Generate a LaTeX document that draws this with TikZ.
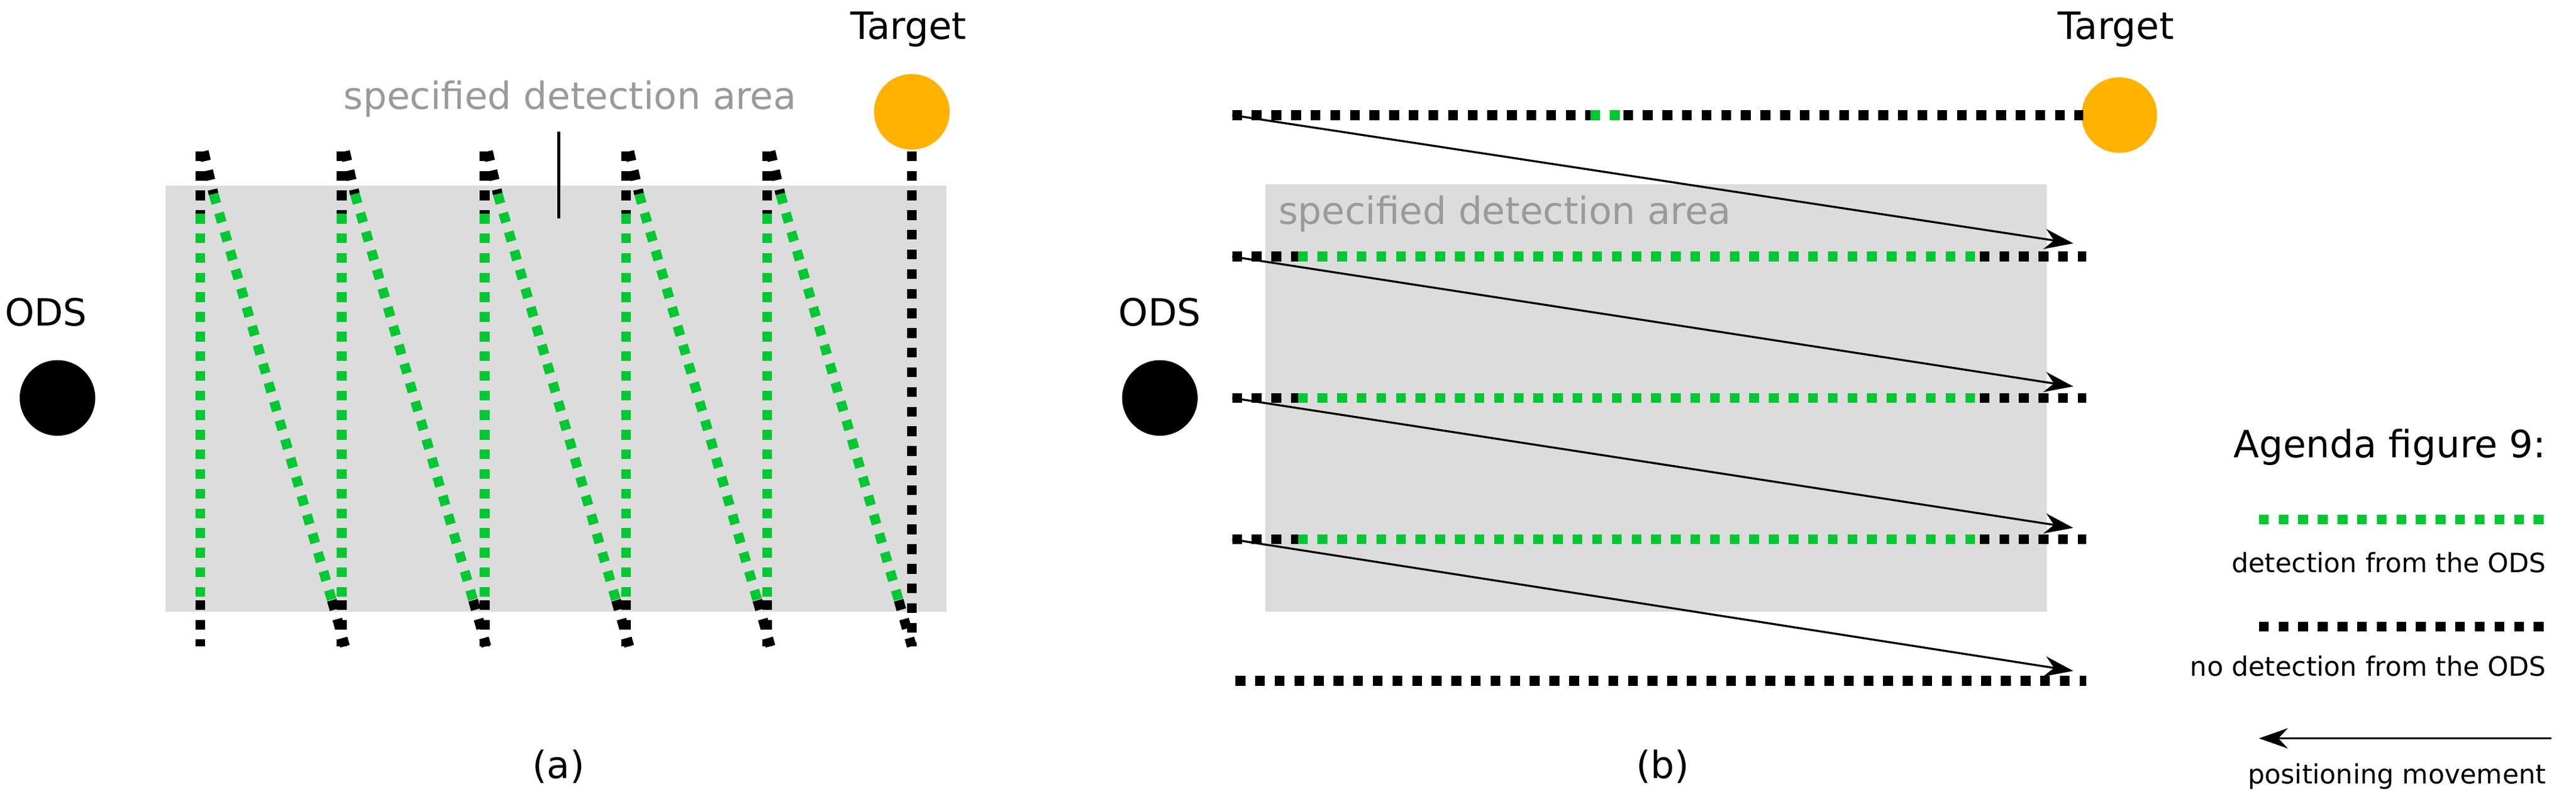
\documentclass[tikz,border=0pt]{standalone}
\usepackage{fontspec}
\setmainfont{DejaVu Sans}
\usetikzlibrary{arrows.meta}
\definecolor{dgreen}{HTML}{00C832}
\definecolor{orng}{HTML}{FFB300}
\definecolor{area}{HTML}{DCDCDC}
\definecolor{gtext}{HTML}{9A9A9A}
\begin{document}
\begin{tikzpicture}[x=0.02cm,y=-0.02cm,
  dl/.style={line width=3.4pt,dash pattern=on 3.4pt off 3.4pt},
  gl/.style={dl,dgreen},
  bl/.style={dl,black},
  dot/.style={circle,minimum size=0.92cm,inner sep=0pt},
  lab/.style={font=\fontsize{13}{15}\selectfont},
  sm/.style={font=\fontsize{9.2}{11}\selectfont,anchor=east},
  mv/.style={line width=0.7pt,-{Stealth[length=10pt,width=7pt]}}]
\useasboundingbox (0,0) rectangle (1568,491);
% panel a
\fill[area] (101,113) rectangle (576,372);
\node[dot,fill=black] (odsa) at (35,242) {};
\node[lab] (odsla) at (28,190) {ODS};
\node[dot,fill=orng] (tga) at (555,68) {};
\node[lab] (tgla) at (553,18) {Target};
\node[lab,text=gtext] (areaa) at (347,60) {specified detection area};
\draw[line width=1pt] (340,80) -- (340,133);
\foreach \x in {122,208,295,381,467}{
  \draw[bl] (\x,92) -- (\x,130);
  \draw[gl] (\x,130) -- (\x,365);
  \draw[bl] (\x,365) -- (\x,393);
  \draw[bl] (\x+2,92) -- (\x+8,118);
  \draw[gl] (\x+8,118) -- (\x+80,365);
  \draw[bl] (\x+80,365) -- (\x+88,393);
}
\draw[bl] (555,92) -- (555,393);
\node[lab] (capa) at (340,466) {(a)};
% panel b
\fill[area] (770,112) rectangle (1246,372);
\node[dot,fill=black] (odsb) at (706,242) {};
\node[lab] (odslb) at (706,190) {ODS};
\node[dot,fill=orng] (tgb) at (1290,70) {};
\node[lab] (tglb) at (1288,18) {Target};
\node[lab,text=gtext,anchor=west] (areab) at (772,130) {specified detection area};
\draw[bl] (750,70) -- (968,70);
\draw[gl] (968,70) -- (988,70);
\draw[bl] (988,70) -- (1268,70);
\foreach \y in {156,242,328}{
  \draw[bl] (750,\y) -- (790,\y);
  \draw[gl] (790,\y) -- (1205,\y);
  \draw[bl] (1205,\y) -- (1270,\y);
}
\draw[bl] (752,414) -- (1270,414);
\coordinate (s1) at (750,70);  \coordinate (e1) at (1262,148);
\coordinate (s2) at (750,156); \coordinate (e2) at (1262,235);
\coordinate (s3) at (750,242); \coordinate (e3) at (1262,321);
\coordinate (s4) at (750,328); \coordinate (e4) at (1262,408);
\draw[mv] (s1) -- (e1);
\draw[mv] (s2) -- (e2);
\draw[mv] (s3) -- (e3);
\draw[mv] (s4) -- (e4);
\node[lab] (capb) at (1012,466) {(b)};
% legend
\node[lab,anchor=east] (leg) at (1556,272) {Agenda figure 9:};
\draw[gl] (1375,316) -- (1553,316);
\node[sm] (lg1) at (1556,342) {detection from the ODS};
\draw[bl] (1375,381) -- (1553,381);
\node[sm] (lg2) at (1556,405) {no detection from the ODS};
\coordinate (la) at (1553,449); \coordinate (lb) at (1375,449);
\draw[mv] (la) -- (lb);
\node[sm] (lg3) at (1556,472) {positioning movement};
\end{tikzpicture}
\end{document}
